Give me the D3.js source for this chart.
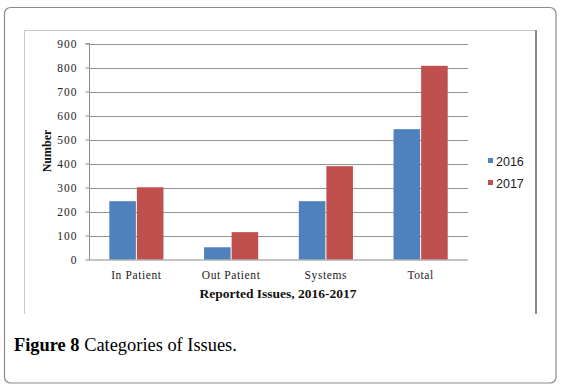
<!DOCTYPE html>
<html><head><meta charset="utf-8">
<script src="https://cdn.jsdelivr.net/npm/d3@7"></script>
<style>html,body{margin:0;padding:0;background:#fff;}</style>
</head><body>
<svg id="c" width="562" height="389"></svg>
<script>
const categories = ["In Patient", "Out Patient", "Systems", "Total"];
const seriesNames = ["2016", "2017"];
const values2016 = [243, 51, 243, 543];
const values2017 = [301, 114, 389, 807];
const yTicks = [0, 100, 200, 300, 400, 500, 600, 700, 800, 900];
const colors = ["#4f81bd", "#c0504d"];
const yTitle = "Number";
const xTitle = "Reported Issues, 2016-2017";
const captionBold = "Figure 8";
const captionText = " Categories of Issues.";

const svg = d3.select("#c");
// outer frame
svg.append("rect").attr("x", 4.5).attr("y", 7.5).attr("width", 551.5).attr("height", 375.5)
  .attr("rx", 6).attr("fill", "#fff").attr("stroke", "#8a8a8a").attr("stroke-width", 1.2);
// inner chart box
svg.append("line").attr("x1", 24.5).attr("y1", 30.5).attr("x2", 536).attr("y2", 30.5).attr("stroke", "#c8c8c8");
svg.append("line").attr("x1", 24.5).attr("y1", 30.5).attr("x2", 24.5).attr("y2", 314).attr("stroke", "#c8c8c8");
svg.append("line").attr("x1", 536).attr("y1", 30).attr("x2", 536).attr("y2", 314).attr("stroke", "#8a8a8a").attr("stroke-width", 2);

const pLeft = 89, pRight = 468, pTop = 43.5, pBottom = 259.5;
const x = d3.scaleBand().domain(categories).range([pLeft, pRight]).paddingInner(0.4286).paddingOuter(0.2143);
const x1 = d3.scaleBand().domain(seriesNames).range([0, x.bandwidth()]).padding(0);
const y = d3.scaleLinear().domain([0, 900]).range([pBottom, pTop]);

// gridlines
svg.append("g").selectAll("line").data(yTicks.filter(d => d > 0)).join("line")
  .attr("x1", pLeft).attr("x2", pRight)
  .attr("y1", d => Math.round(y(d)) + 0.5).attr("y2", d => Math.round(y(d)) + 0.5)
  .attr("stroke", "#949494").attr("stroke-width", 1);

// bars
const data = categories.map((c, i) => ({c, vals: [values2016[i], values2017[i]]}));
const g = svg.append("g").selectAll("g").data(data).join("g")
  .attr("transform", d => `translate(${x(d.c)},0)`);
g.selectAll("rect").data(d => d.vals.map((v, j) => ({v, s: seriesNames[j], j}))).join("rect")
  .attr("x", d => x1(d.s) + (d.j === 1 ? 0.5 : 0))
  .attr("width", d => x1.bandwidth() - 0.5)
  .attr("y", d => y(d.v)).attr("height", d => y(0) - y(d.v))
  .attr("fill", d => colors[d.j]);

// y axis
const yAxis = d3.axisLeft(y).tickValues(yTicks).tickSize(4).tickPadding(8).tickFormat(d3.format("d"));
const ya = svg.append("g").attr("transform", `translate(${pLeft + 0.5},0)`).call(yAxis);
ya.select(".domain").attr("stroke", "#8a8a8a").attr("d", `M-4,${pTop}H0V${pBottom}`);
ya.selectAll(".tick line").attr("stroke", "#8a8a8a");
ya.selectAll(".tick text").attr("font-family", "Liberation Serif, serif").attr("font-size", 11.5)
  .attr("letter-spacing", "1px").attr("fill", "#222");

// x axis
const xAxis = d3.axisBottom(x).tickSize(0).tickPadding(11);
const xa = svg.append("g").attr("transform", `translate(0,${pBottom})`).call(xAxis);
xa.select(".domain").attr("stroke", "#8a8a8a").attr("d", `M${pLeft},0.5H${pRight}`);
xa.selectAll(".tick text").attr("font-family", "Liberation Serif, serif").attr("font-size", 11.5)
  .attr("letter-spacing", "0.6px").attr("fill", "#222");

// axis titles
svg.append("text").attr("transform", `translate(51,151) rotate(-90)`).attr("text-anchor", "middle")
  .attr("font-family", "Liberation Serif, serif").attr("font-weight", "bold").attr("font-size", 12)
  .attr("fill", "#111").text(yTitle);
svg.append("text").attr("x", 278).attr("y", 298).attr("text-anchor", "middle")
  .attr("font-family", "Liberation Serif, serif").attr("font-weight", "bold").attr("font-size", 13.5)
  .attr("fill", "#111").text(xTitle);

// legend
const lg = svg.append("g").selectAll("g").data(seriesNames).join("g")
  .attr("transform", (d, i) => `translate(488,${161 + i * 22})`);
lg.append("rect").attr("x", 0).attr("y", -3).attr("width", 5).attr("height", 5).attr("fill", (d, i) => colors[i]);
lg.append("text").attr("x", 8).attr("y", 0).attr("dy", "0.38em")
  .attr("font-family", "Liberation Sans, sans-serif").attr("font-size", 12.5).attr("fill", "#222").text(d => d);

// caption
const cap = svg.append("text").attr("x", 14).attr("y", 351)
  .attr("font-family", "Liberation Serif, serif").attr("font-size", 18.4).attr("fill", "#000");
cap.append("tspan").attr("font-weight", "bold").text(captionBold);
cap.append("tspan").text(captionText);
</script>
</body></html>
